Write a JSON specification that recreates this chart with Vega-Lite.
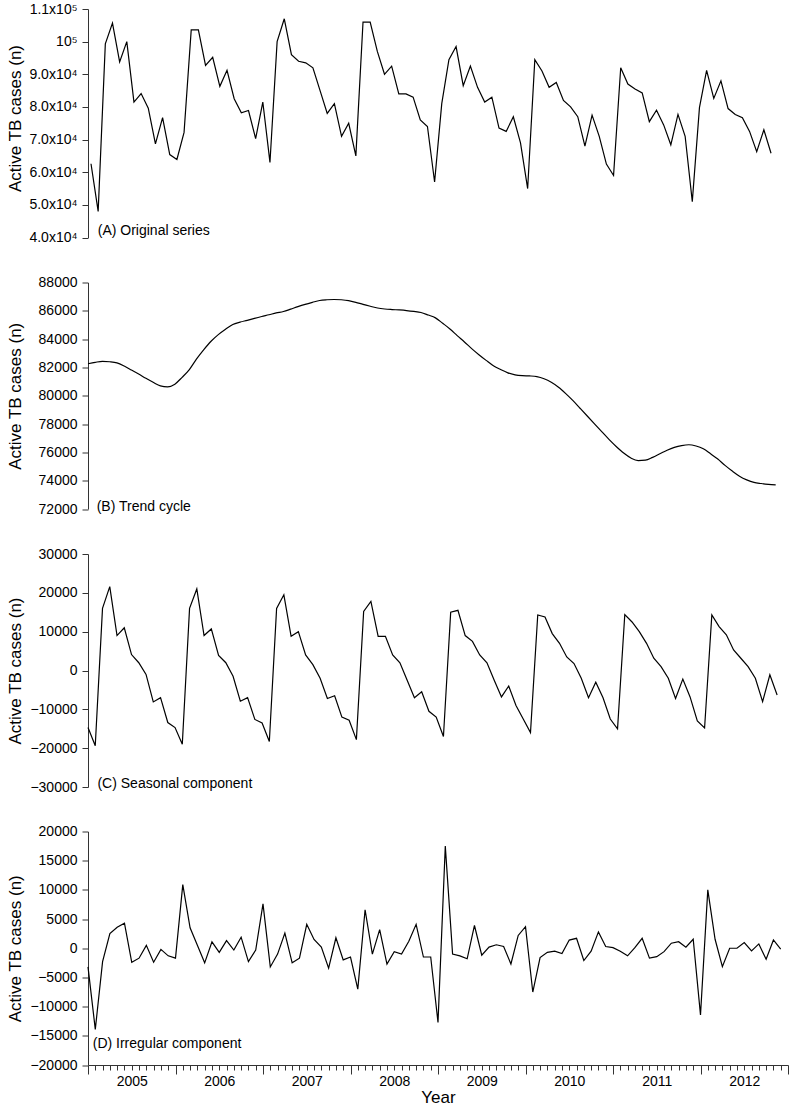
{
  "$schema": "https://vega.github.io/schema/vega-lite/v6.json",
  "padding": {"left": 5, "top": 2, "right": 5, "bottom": 0},
  "data": {"values": [
    {"t":0,"orig":62600,"trend":82260,"seasonal":-14700,"irregular":-3200},
    {"t":1,"orig":48000,"trend":82360,"seasonal":-19400,"irregular":-13900},
    {"t":2,"orig":99300,"trend":82430,"seasonal":16000,"irregular":-2300},
    {"t":3,"orig":105700,"trend":82400,"seasonal":21600,"irregular":2500},
    {"t":4,"orig":93800,"trend":82320,"seasonal":9000,"irregular":3600},
    {"t":5,"orig":100000,"trend":82100,"seasonal":11000,"irregular":4300},
    {"t":6,"orig":81500,"trend":81820,"seasonal":4100,"irregular":-2400},
    {"t":7,"orig":84100,"trend":81530,"seasonal":2000,"irregular":-1700},
    {"t":8,"orig":79600,"trend":81230,"seasonal":-1000,"irregular":500},
    {"t":9,"orig":68700,"trend":80950,"seasonal":-8100,"irregular":-2400},
    {"t":10,"orig":76700,"trend":80700,"seasonal":-7000,"irregular":-200},
    {"t":11,"orig":65400,"trend":80630,"seasonal":-13400,"irregular":-1300},
    {"t":12,"orig":63900,"trend":80820,"seasonal":-14700,"irregular":-1700},
    {"t":13,"orig":72200,"trend":81300,"seasonal":-19000,"irregular":10900},
    {"t":14,"orig":103600,"trend":81850,"seasonal":16000,"irregular":3500},
    {"t":15,"orig":103600,"trend":82600,"seasonal":21000,"irregular":500},
    {"t":16,"orig":92700,"trend":83260,"seasonal":9000,"irregular":-2500},
    {"t":17,"orig":95200,"trend":83850,"seasonal":10700,"irregular":1100},
    {"t":18,"orig":86300,"trend":84320,"seasonal":3900,"irregular":-700},
    {"t":19,"orig":91200,"trend":84700,"seasonal":2000,"irregular":1300},
    {"t":20,"orig":82500,"trend":85030,"seasonal":-1500,"irregular":-300},
    {"t":21,"orig":78200,"trend":85200,"seasonal":-7900,"irregular":1900},
    {"t":22,"orig":78900,"trend":85330,"seasonal":-7000,"irregular":-2300},
    {"t":23,"orig":70300,"trend":85470,"seasonal":-12600,"irregular":-300},
    {"t":24,"orig":81500,"trend":85600,"seasonal":-13500,"irregular":7600},
    {"t":25,"orig":63000,"trend":85720,"seasonal":-18300,"irregular":-3200},
    {"t":26,"orig":100000,"trend":85850,"seasonal":16000,"irregular":-1000},
    {"t":27,"orig":107000,"trend":85950,"seasonal":19500,"irregular":2600},
    {"t":28,"orig":96000,"trend":86120,"seasonal":8800,"irregular":-2500},
    {"t":29,"orig":94000,"trend":86300,"seasonal":10000,"irregular":-1700},
    {"t":30,"orig":93500,"trend":86460,"seasonal":4000,"irregular":4100},
    {"t":31,"orig":92000,"trend":86600,"seasonal":1500,"irregular":1500},
    {"t":32,"orig":85000,"trend":86730,"seasonal":-2000,"irregular":200},
    {"t":33,"orig":78000,"trend":86780,"seasonal":-7200,"irregular":-3400},
    {"t":34,"orig":81000,"trend":86800,"seasonal":-6500,"irregular":1800},
    {"t":35,"orig":71000,"trend":86780,"seasonal":-12000,"irregular":-2000},
    {"t":36,"orig":75000,"trend":86720,"seasonal":-12800,"irregular":-1500},
    {"t":37,"orig":65000,"trend":86600,"seasonal":-17800,"irregular":-7000},
    {"t":38,"orig":106000,"trend":86450,"seasonal":15200,"irregular":6600},
    {"t":39,"orig":106000,"trend":86320,"seasonal":17800,"irregular":-1000},
    {"t":40,"orig":97000,"trend":86200,"seasonal":8800,"irregular":3200},
    {"t":41,"orig":90000,"trend":86130,"seasonal":8800,"irregular":-2700},
    {"t":42,"orig":92500,"trend":86090,"seasonal":4000,"irregular":-600},
    {"t":43,"orig":84000,"trend":86060,"seasonal":2000,"irregular":-1000},
    {"t":44,"orig":84000,"trend":86020,"seasonal":-2500,"irregular":1200},
    {"t":45,"orig":83000,"trend":85960,"seasonal":-7000,"irregular":4100},
    {"t":46,"orig":76000,"trend":85880,"seasonal":-5500,"irregular":-1500},
    {"t":47,"orig":74000,"trend":85700,"seasonal":-10500,"irregular":-1500},
    {"t":48,"orig":57000,"trend":85500,"seasonal":-12000,"irregular":-12700},
    {"t":49,"orig":81000,"trend":85120,"seasonal":-17000,"irregular":17500},
    {"t":50,"orig":94500,"trend":84720,"seasonal":15000,"irregular":-1000},
    {"t":51,"orig":98500,"trend":84250,"seasonal":15500,"irregular":-1300},
    {"t":52,"orig":86500,"trend":83800,"seasonal":9000,"irregular":-1800},
    {"t":53,"orig":92500,"trend":83330,"seasonal":7500,"irregular":3900},
    {"t":54,"orig":86000,"trend":82900,"seasonal":4000,"irregular":-1200},
    {"t":55,"orig":81500,"trend":82500,"seasonal":2000,"irregular":200},
    {"t":56,"orig":83000,"trend":82120,"seasonal":-2500,"irregular":600},
    {"t":57,"orig":73500,"trend":81850,"seasonal":-6800,"irregular":300},
    {"t":58,"orig":72500,"trend":81620,"seasonal":-4000,"irregular":-2700},
    {"t":59,"orig":77000,"trend":81480,"seasonal":-9000,"irregular":2200},
    {"t":60,"orig":69000,"trend":81420,"seasonal":-12500,"irregular":3700},
    {"t":61,"orig":55000,"trend":81400,"seasonal":-16000,"irregular":-7500},
    {"t":62,"orig":94500,"trend":81350,"seasonal":14300,"irregular":-1600},
    {"t":63,"orig":91000,"trend":81200,"seasonal":13800,"irregular":-700},
    {"t":64,"orig":86000,"trend":80950,"seasonal":9500,"irregular":-500},
    {"t":65,"orig":87500,"trend":80600,"seasonal":7000,"irregular":-900},
    {"t":66,"orig":82000,"trend":80150,"seasonal":3500,"irregular":1400},
    {"t":67,"orig":80000,"trend":79650,"seasonal":1800,"irregular":1700},
    {"t":68,"orig":77000,"trend":79100,"seasonal":-2000,"irregular":-2100},
    {"t":69,"orig":68000,"trend":78550,"seasonal":-7000,"irregular":-500},
    {"t":70,"orig":77500,"trend":78000,"seasonal":-3000,"irregular":2800},
    {"t":71,"orig":71000,"trend":77450,"seasonal":-7000,"irregular":300},
    {"t":72,"orig":62500,"trend":76900,"seasonal":-12500,"irregular":100},
    {"t":73,"orig":59000,"trend":76400,"seasonal":-15000,"irregular":-500},
    {"t":74,"orig":92000,"trend":75950,"seasonal":14400,"irregular":-1300},
    {"t":75,"orig":87000,"trend":75600,"seasonal":12500,"irregular":100},
    {"t":76,"orig":85500,"trend":75420,"seasonal":10000,"irregular":1700},
    {"t":77,"orig":84300,"trend":75450,"seasonal":7000,"irregular":-1700},
    {"t":78,"orig":75500,"trend":75650,"seasonal":3150,"irregular":-1440},
    {"t":79,"orig":79000,"trend":75900,"seasonal":1000,"irregular":-580},
    {"t":80,"orig":74500,"trend":76150,"seasonal":-2000,"irregular":860},
    {"t":81,"orig":68400,"trend":76350,"seasonal":-7200,"irregular":1130},
    {"t":82,"orig":77700,"trend":76480,"seasonal":-2200,"irregular":170},
    {"t":83,"orig":71000,"trend":76540,"seasonal":-6800,"irregular":1540},
    {"t":84,"orig":51000,"trend":76450,"seasonal":-13000,"irregular":-11430},
    {"t":85,"orig":79800,"trend":76250,"seasonal":-14800,"irregular":10000},
    {"t":86,"orig":91200,"trend":75900,"seasonal":14300,"irregular":1540},
    {"t":87,"orig":82600,"trend":75530,"seasonal":11300,"irregular":-3150},
    {"t":88,"orig":88000,"trend":75080,"seasonal":9200,"irregular":0},
    {"t":89,"orig":79500,"trend":74680,"seasonal":5300,"irregular":0},
    {"t":90,"orig":77700,"trend":74320,"seasonal":3150,"irregular":960},
    {"t":91,"orig":76700,"trend":74060,"seasonal":1000,"irregular":-460},
    {"t":92,"orig":72500,"trend":73880,"seasonal":-2000,"irregular":740},
    {"t":93,"orig":66300,"trend":73800,"seasonal":-8000,"irregular":-1890},
    {"t":94,"orig":73000,"trend":73740,"seasonal":-1100,"irregular":1420},
    {"t":95,"orig":65800,"trend":73700,"seasonal":-6300,"irregular":-170}
  ]},
  "spacing": 44.5,
  "bounds": "flush",
  "vconcat": [
    {
      "width": 700, "height": 228.5,
      "layer": [
        {
          "mark": {"type": "line", "color": "#000", "strokeWidth": 1.2},
          "encoding": {
            "x": {"field": "t", "type": "quantitative", "scale": {"domain": [-0.42, 97.37], "nice": false, "zero": false}, "axis": null},
            "y": {"field": "orig", "type": "quantitative", "scale": {"domain": [40000, 110000], "nice": false, "zero": false},
              "axis": {"values": [40000, 50000, 60000, 70000, 80000, 90000, 100000, 110000], "tickCount": 50, "labelOverlap": false,
                "labelExpr": "datum.value === 100000 ? '10⁵' : datum.value === 110000 ? '1.1x10⁵' : format(datum.value / 10000, '.1f') + 'x10⁴'",
                "title": "Active TB cases (n)", "titleX": -68, "titleY": 109, "titleBaseline": "alphabetic"}}
          }
        },
        {
          "data": {"values": [{"label": "(A) Original series"}]},
          "mark": {"type": "text", "align": "left", "baseline": "middle", "fontSize": 14, "color": "#000"},
          "encoding": {
            "x": {"datum": 0.94, "type": "quantitative", "axis": null},
            "y": {"datum": 42130, "type": "quantitative"},
            "text": {"field": "label"}
          }
        }
      ]
    },
    {
      "width": 700, "height": 226.5,
      "layer": [
        {
          "mark": {"type": "line", "color": "#000", "strokeWidth": 1.2, "interpolate": "monotone"},
          "encoding": {
            "x": {"field": "t", "type": "quantitative", "scale": {"domain": [0, 96.7], "nice": false, "zero": false}, "axis": null},
            "y": {"field": "trend", "type": "quantitative", "scale": {"domain": [72000, 88000], "nice": false, "zero": false},
              "axis": {"values": [72000, 74000, 76000, 78000, 80000, 82000, 84000, 86000, 88000], "tickCount": 50, "labelOverlap": false, "format": "d",
                "title": "Active TB cases (n)", "titleX": -68, "titleY": 113.25, "titleBaseline": "alphabetic"}}
          }
        },
        {
          "data": {"values": [{"label": "(B) Trend cycle"}]},
          "mark": {"type": "text", "align": "left", "baseline": "middle", "fontSize": 14, "color": "#000"},
          "encoding": {
            "x": {"datum": 1.2, "type": "quantitative", "axis": null},
            "y": {"datum": 72150, "type": "quantitative"},
            "text": {"field": "label"}
          }
        }
      ]
    },
    {
      "width": 700, "height": 233,
      "layer": [
        {
          "mark": {"type": "line", "color": "#000", "strokeWidth": 1.2},
          "encoding": {
            "x": {"field": "t", "type": "quantitative", "scale": {"domain": [0, 96.5], "nice": false, "zero": false}, "axis": null},
            "y": {"field": "seasonal", "type": "quantitative", "scale": {"domain": [-30000, 30000], "nice": false, "zero": false},
              "axis": {"values": [-30000, -20000, -10000, 0, 10000, 20000, 30000], "tickCount": 50, "labelOverlap": false, "format": "d",
                "title": "Active TB cases (n)", "titleX": -68, "titleY": 116.5, "titleBaseline": "alphabetic"}}
          }
        },
        {
          "data": {"values": [{"label": "(C) Seasonal component"}]},
          "mark": {"type": "text", "align": "left", "baseline": "middle", "fontSize": 14, "color": "#000"},
          "encoding": {
            "x": {"datum": 1.3, "type": "quantitative", "axis": null},
            "y": {"datum": -29200, "type": "quantitative"},
            "text": {"field": "label"}
          }
        }
      ]
    },
    {
      "width": 700, "height": 233.5,
      "layer": [
        {
          "mark": {"type": "line", "color": "#000", "strokeWidth": 1.2},
          "encoding": {
            "x": {"field": "t", "type": "quantitative", "scale": {"domain": [0, 96], "nice": false, "zero": false},
              "axis": {"values": [0,1,2,3,4,5,6,7,8,9,10,11,12,13,14,15,16,17,18,19,20,21,22,23,24,25,26,27,28,29,30,31,32,33,34,35,36,37,38,39,40,41,42,43,44,45,46,47,48,49,50,51,52,53,54,55,56,57,58,59,60,61,62,63,64,65,66,67,68,69,70,71,72,73,74,75,76,77,78,79,80,81,82,83,84,85,86,87,88,89,90,91,92,93,94,95,96],
                "tickCount": 500,
                "labelExpr": "datum.value % 12 === 6 ? '' + (2005 + floor(datum.value / 12)) : ''",
                "tickSize": {"condition": {"test": "datum.value % 12 === 0", "value": 9}, "value": 5},
                "labelPadding": 4, "labelOverlap": false, "labelFlush": false, "labelBound": false,
                "title": "Year", "titlePadding": -3}},
            "y": {"field": "irregular", "type": "quantitative", "scale": {"domain": [-20000, 20000], "nice": false, "zero": false},
              "axis": {"values": [-20000, -15000, -10000, -5000, 0, 5000, 10000, 15000, 20000], "tickCount": 50, "labelOverlap": false, "format": "d",
                "title": "Active TB cases (n)", "titleX": -68, "titleY": 116.75, "titleBaseline": "alphabetic"}}
          }
        },
        {
          "data": {"values": [{"label": "(D) Irregular component"}]},
          "mark": {"type": "text", "align": "left", "baseline": "middle", "fontSize": 14, "color": "#000"},
          "encoding": {
            "x": {"datum": 0.65, "type": "quantitative"},
            "y": {"datum": -16400, "type": "quantitative"},
            "text": {"field": "label"}
          }
        }
      ]
    }
  ],
  "config": {
    "view": {"stroke": null},
    "font": "Liberation Sans",
    "text": {"font": "Liberation Sans"},
    "axis": {
      "labelFont": "Liberation Sans", "titleFont": "Liberation Sans",
      "labelFontSize": 14, "titleFontSize": 17, "titleFontWeight": "normal",
      "labelColor": "#000", "titleColor": "#000",
      "domainColor": "#333", "tickColor": "#333", "domainWidth": 1, "tickWidth": 1,
      "grid": false, "tickSize": 6, "labelPadding": 5
    }
  }
}
